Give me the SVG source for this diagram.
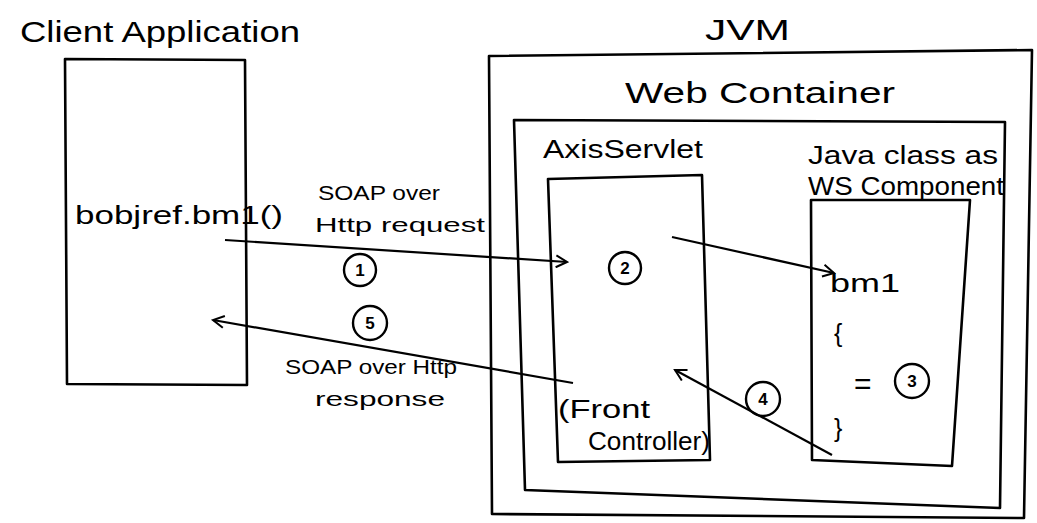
<svg xmlns="http://www.w3.org/2000/svg" width="1037" height="523" viewBox="0 0 1037 523">
<defs>
<style>
.box{fill:none;stroke:#000;stroke-width:2.6;stroke-linejoin:round}
.ln{fill:none;stroke:#000;stroke-width:2.2}
.t{font-family:"Liberation Sans",Arial,sans-serif;fill:#000}
.big{font-size:30px}
.mid{font-size:25px}
.sm{font-size:21px}
.c{fill:none;stroke:#000;stroke-width:2.4}
.n{font-family:"Liberation Sans",Arial,sans-serif;font-size:17px;font-weight:bold;text-anchor:middle}
</style>
<marker id="ah" viewBox="0 0 14 14" refX="12" refY="7" markerWidth="14" markerHeight="14" markerUnits="userSpaceOnUse" orient="auto">
<path d="M1,1 L12,7 L1,13" fill="none" stroke="#000" stroke-width="2"/>
</marker>
</defs>
<rect width="1037" height="523" fill="#fff"/>

<g id="client">
<polygon class="box" points="65,59 245,60 247,385 67,384"/>
<text class="t big" x="20" y="42" textLength="280" lengthAdjust="spacingAndGlyphs">Client Application</text>
<text class="t mid" x="75" y="224" textLength="208" lengthAdjust="spacingAndGlyphs">bobjref.bm1()</text>
</g>

<g id="jvm">
<polygon class="box" points="489,56 1032,50 1024,518 492,514"/>
<text class="t big" x="705" y="40" textLength="85" lengthAdjust="spacingAndGlyphs">JVM</text>
</g>

<g id="webcontainer">
<polygon class="box" points="514,120 1005,122 1000,508 525,490"/>
<text class="t big" x="625" y="103" textLength="270" lengthAdjust="spacingAndGlyphs">Web Container</text>
</g>

<g id="axisservlet">
<polygon class="box" points="548,179 702,175 710,460 558,462"/>
<text class="t mid" x="543" y="158" textLength="160" lengthAdjust="spacingAndGlyphs">AxisServlet</text>
<text class="t mid" x="558" y="418" textLength="92" lengthAdjust="spacingAndGlyphs">(Front</text>
<text class="t mid" x="588" y="450" textLength="122" lengthAdjust="spacingAndGlyphs">Controller)</text>
</g>

<g id="javaclass">
<polygon class="box" points="811,200 970,200 952,466 812,460"/>
<text class="t mid" x="808" y="164" textLength="190" lengthAdjust="spacingAndGlyphs">Java class as</text>
<text class="t mid" x="808" y="195" textLength="196" lengthAdjust="spacingAndGlyphs">WS Component</text>
<text class="t mid" x="830" y="292" textLength="70" lengthAdjust="spacingAndGlyphs">bm1</text>
<text class="t mid" x="834" y="342">{</text>
<text class="t big" x="854" y="394">=</text>
<text class="t mid" x="834" y="437">}</text>
<circle class="c" cx="912" cy="381" r="17"/>
<text class="n" x="912" y="387">3</text>
</g>

<g id="connectors">
<line class="ln" x1="225" y1="240" x2="567" y2="262" marker-end="url(#ah)"/>
<line class="ln" x1="672" y1="237" x2="834" y2="273" marker-end="url(#ah)"/>
<line class="ln" x1="832" y1="455" x2="675" y2="370" marker-end="url(#ah)"/>
<line class="ln" x1="573" y1="383" x2="213" y2="320" marker-end="url(#ah)"/>
</g>

<g id="labels">
<text class="t sm" x="318" y="200" textLength="122" lengthAdjust="spacingAndGlyphs">SOAP over</text>
<text class="t sm" x="315" y="232" textLength="170" lengthAdjust="spacingAndGlyphs">Http request</text>
<circle class="c" cx="360" cy="270" r="16"/>
<text class="n" x="360" y="276">1</text>
<circle class="c" cx="625" cy="268" r="16"/>
<text class="n" x="625" y="274">2</text>
<circle class="c" cx="370" cy="323" r="17"/>
<text class="n" x="370" y="329">5</text>
<text class="t sm" x="285" y="374" textLength="172" lengthAdjust="spacingAndGlyphs">SOAP over Http</text>
<text class="t sm" x="315" y="406" textLength="130" lengthAdjust="spacingAndGlyphs">response</text>
<circle class="c" cx="763" cy="399" r="17"/>
<text class="n" x="763" y="405">4</text>
</g>
</svg>
